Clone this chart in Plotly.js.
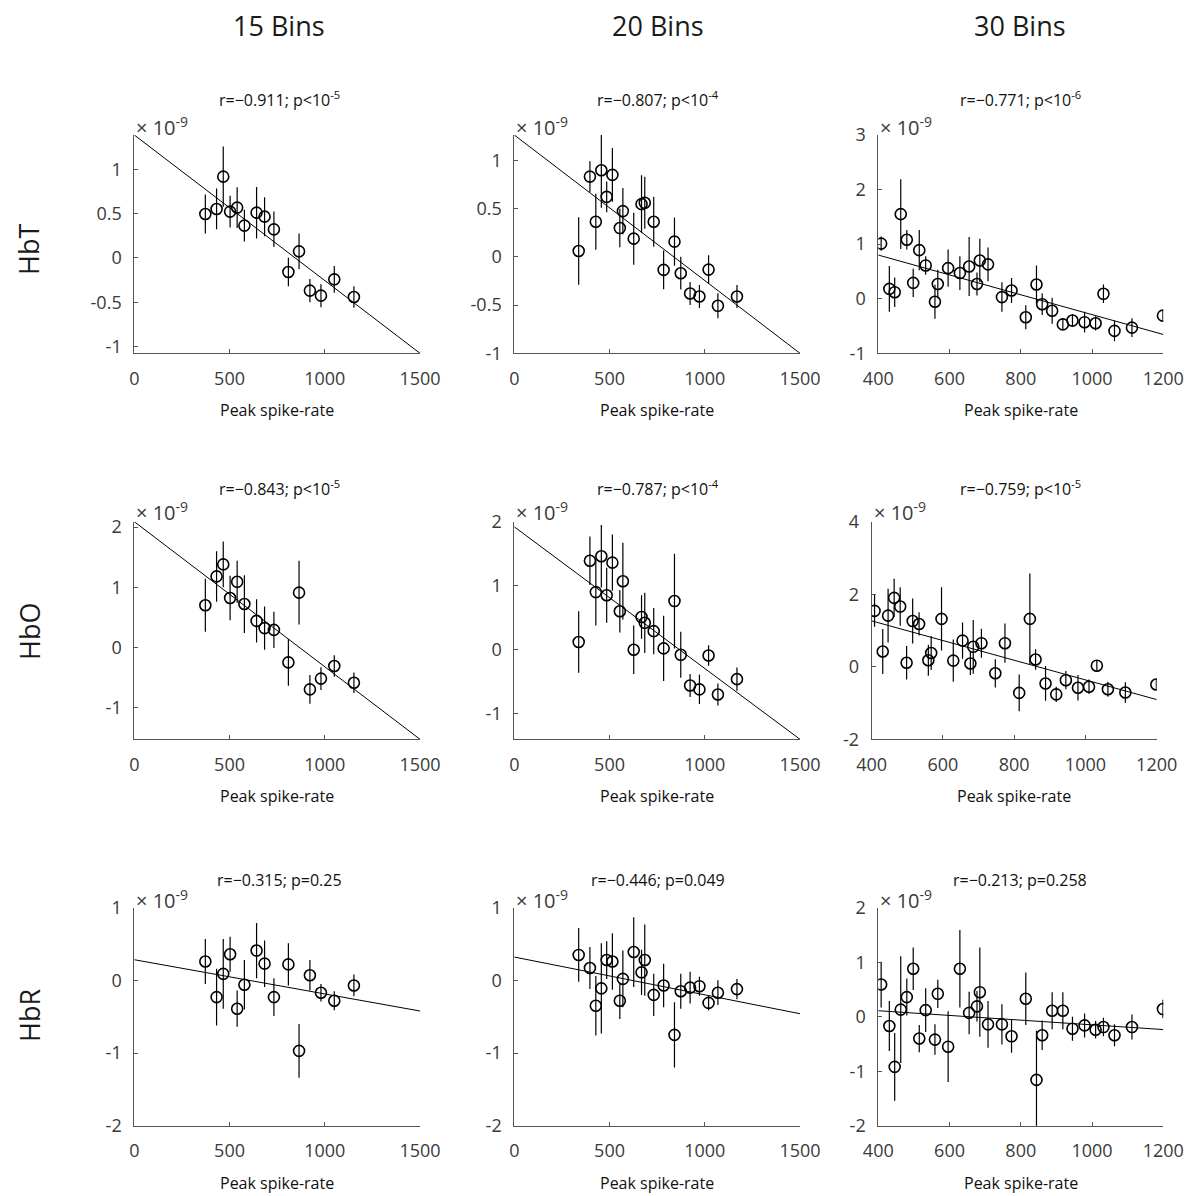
<!DOCTYPE html>
<html>
<head>
<meta charset="utf-8">
<script src="https://cdn.plot.ly/plotly-3.0.1.min.js"></script>
<style>html,body{margin:0;padding:0;background:#fff}#chart{width:1190px;height:1196px}</style>
</head>
<body>
<div id="chart"></div>
<script>
// ---------- DATA (values in units of 1e-9) ----------
const colTitles = ["15 Bins", "20 Bins", "30 Bins"];
const rowTitles = ["HbT", "HbO", "HbR"];
const xLabel = "Peak spike-rate";

const bins15_x = [373, 432, 467, 503, 540, 578, 642, 684, 733, 809, 865, 922, 980, 1050, 1153];
const bins20_x = [338, 397, 428, 457, 485, 515, 554, 570, 627, 668, 685, 732, 784, 841, 874, 923, 972, 1020, 1069, 1169];
const bins30_x = [408, 431, 446, 463, 480, 498, 515, 533, 559, 567, 596, 629, 655, 677, 685, 708, 747, 774, 814, 844, 860, 888, 918, 945, 979, 1010, 1032, 1063, 1112, 1199];

const hbt15_y = [0.496, 0.553, 0.917, 0.523, 0.568, 0.365, 0.511, 0.466, 0.323, -0.158, 0.075, -0.368, -0.425, -0.241, -0.44];
const hbt15_e = [0.22, 0.23, 0.34, 0.18, 0.23, 0.18, 0.29, 0.22, 0.2, 0.16, 0.2, 0.13, 0.13, 0.15, 0.12];
const hbo15_y = [0.70, 1.18, 1.38, 0.82, 1.09, 0.72, 0.44, 0.32, 0.29, -0.25, 0.91, -0.70, -0.52, -0.31, -0.59];
const hbo15_e = [0.44, 0.42, 0.38, 0.37, 0.35, 0.48, 0.36, 0.36, 0.3, 0.39, 0.53, 0.24, 0.19, 0.18, 0.17];
const hbr15_y = [0.26, -0.23, 0.09, 0.36, -0.39, -0.06, 0.41, 0.23, -0.23, 0.22, -0.97, 0.07, -0.17, -0.28, -0.07];
const hbr15_e = [0.31, 0.39, 0.48, 0.24, 0.25, 0.34, 0.38, 0.32, 0.26, 0.29, 0.37, 0.21, 0.12, 0.13, 0.15];

const hbt20_y = [0.062, 0.834, 0.366, 0.9, 0.624, 0.852, 0.3, 0.476, 0.19, 0.548, 0.562, 0.366, -0.134, 0.159, -0.169, -0.379, -0.41, -0.131, -0.507, -0.41];
const hbt20_e = [0.35, 0.16, 0.29, 0.39, 0.16, 0.28, 0.2, 0.24, 0.27, 0.3, 0.27, 0.26, 0.2, 0.25, 0.17, 0.12, 0.12, 0.15, 0.13, 0.12];
const hbo20_y = [0.12, 1.39, 0.90, 1.46, 0.85, 1.36, 0.60, 1.07, 0.0, 0.51, 0.42, 0.29, 0.02, 0.76, -0.08, -0.56, -0.62, -0.09, -0.70, -0.46];
const hbo20_e = [0.48, 0.38, 0.52, 0.49, 0.43, 0.44, 0.33, 0.6, 0.38, 0.34, 0.47, 0.36, 0.51, 0.74, 0.36, 0.18, 0.23, 0.16, 0.17, 0.18];
const hbr20_y = [0.35, 0.17, -0.35, -0.11, 0.28, 0.26, -0.28, 0.02, 0.39, 0.11, 0.28, -0.2, -0.07, -0.75, -0.15, -0.10, -0.08, -0.31, -0.17, -0.12];
const hbr20_e = [0.37, 0.29, 0.41, 0.62, 0.26, 0.39, 0.25, 0.39, 0.48, 0.31, 0.49, 0.29, 0.3, 0.45, 0.24, 0.22, 0.13, 0.1, 0.17, 0.14];

const hbt30_y = [1.01, 0.18, 0.12, 1.55, 1.08, 0.29, 0.89, 0.61, -0.055, 0.27, 0.56, 0.47, 0.59, 0.27, 0.70, 0.63, 0.03, 0.15, -0.34, 0.26, -0.1, -0.22, -0.47, -0.4, -0.43, -0.45, 0.09, -0.59, -0.53, -0.31];
const hbt30_e = [0.13, 0.42, 0.27, 0.64, 0.18, 0.26, 0.37, 0.17, 0.31, 0.26, 0.34, 0.31, 0.54, 0.21, 0.4, 0.31, 0.27, 0.23, 0.22, 0.35, 0.2, 0.24, 0.1, 0.12, 0.19, 0.13, 0.17, 0.19, 0.17, 0.09];
const hbo30_y = [1.54, 0.42, 1.41, 1.90, 1.66, 0.11, 1.26, 1.18, 0.18, 0.38, 1.32, 0.17, 0.72, 0.09, 0.55, 0.65, -0.18, 0.65, -0.72, 1.32, 0.2, -0.46, -0.76, -0.37, -0.58, -0.55, 0.03, -0.62, -0.71, -0.49];
const hbo30_e = [0.44, 0.62, 0.74, 0.53, 0.53, 0.46, 0.62, 0.32, 0.43, 0.47, 0.87, 0.58, 0.5, 0.32, 0.74, 0.4, 0.39, 0.54, 0.51, 1.25, 0.28, 0.48, 0.21, 0.25, 0.35, 0.2, 0.16, 0.21, 0.28, 0.16];
const hbr30_y = [0.59, -0.17, -0.92, 0.13, 0.36, 0.88, -0.40, 0.12, -0.42, 0.42, -0.55, 0.88, 0.07, 0.19, 0.45, -0.14, -0.14, -0.36, 0.33, -1.16, -0.34, 0.11, 0.11, -0.22, -0.16, -0.24, -0.19, -0.34, -0.19, 0.14];
const hbr30_e = [0.42, 0.46, 0.62, 0.98, 0.34, 0.39, 0.25, 0.4, 0.28, 0.26, 0.65, 0.71, 0.39, 0.28, 0.82, 0.43, 0.37, 0.3, 0.48, 0.9, 0.27, 0.34, 0.34, 0.22, 0.22, 0.16, 0.17, 0.2, 0.23, 0.17];

// regression lines (end points)
const fitX_15_20 = [0, 1500];
const fitX_30 = [400, 1200];
const fit_hbt15 = [1.387, -1.075], fit_hbt20 = [1.266, -1.0], fit_hbt30 = [0.80, -0.655];
const fit_hbo15 = [2.09, -1.53],   fit_hbo20 = [1.92, -1.40],  fit_hbo30 = [1.265, -0.905];
const fit_hbr15 = [0.284, -0.422], fit_hbr20 = [0.321, -0.459], fit_hbr30 = [0.11, -0.236];

const stats = [
  "r=\u22120.911; p<10<sup>-5</sup>", "r=\u22120.807; p<10<sup>-4</sup>", "r=\u22120.771; p<10<sup>-6</sup>",
  "r=\u22120.843; p<10<sup>-5</sup>", "r=\u22120.787; p<10<sup>-4</sup>", "r=\u22120.759; p<10<sup>-5</sup>",
  "r=\u22120.315; p=0.25", "r=\u22120.446; p=0.049", "r=\u22120.213; p=0.258"
];

// axis tick labels
const xTicks_15_20 = [0, 500, 1000, 1500];
const xTicks_30 = [400, 600, 800, 1000, 1200];
const yTicks_hbt = [-1, -0.5, 0, 0.5, 1];
const yTicks_hbt30 = [-1, 0, 1, 2, 3];
const yTicks_hbo = [-1, 0, 1, 2];
const yTicks_hbo30 = [-2, 0, 2, 4];
const yTicks_hbr = [-2, -1, 0, 1];
const yTicks_hbr30 = [-2, -1, 0, 1, 2];
const yRanges = [[-1.075, 1.387], [-1.0, 1.266], [-1, 3], [-1.53, 2.09], [-1.40, 2.0], [-2, 4], [-2, 1], [-2, 1], [-2, 2]];
const scaleLabel = "\u00d7 10<sup>-9</sup>";

// ---------- LAYOUT HELPERS ----------
const W = 1190, H = 1196;
const px = x => x / W;
const py = y => 1 - y / H;
const FONT = "Open Sans, Noto Sans, sans-serif";
const AXC = "#555555", TXC = "#3a3a3a";

const panels = [
  {x: bins15_x, y: hbt15_y, e: hbt15_e, fx: fitX_15_20, fy: fit_hbt15, xt: xTicks_15_20, yt: yTicks_hbt,   xr: [0, 1500],   box: [134.3, 420, 135, 353.3]},
  {x: bins20_x, y: hbt20_y, e: hbt20_e, fx: fitX_15_20, fy: fit_hbt20, xt: xTicks_15_20, yt: yTicks_hbt,   xr: [0, 1500],   box: [514.3, 800, 135, 353.3]},
  {x: bins30_x, y: hbt30_y, e: hbt30_e, fx: fitX_30,    fy: fit_hbt30, xt: xTicks_30,    yt: yTicks_hbt30, xr: [400, 1200], box: [878.3, 1163.3, 135, 353.3]},
  {x: bins15_x, y: hbo15_y, e: hbo15_e, fx: fitX_15_20, fy: fit_hbo15, xt: xTicks_15_20, yt: yTicks_hbo,   xr: [0, 1500],   box: [134.3, 420, 521.7, 739.3]},
  {x: bins20_x, y: hbo20_y, e: hbo20_e, fx: fitX_15_20, fy: fit_hbo20, xt: xTicks_15_20, yt: yTicks_hbo,   xr: [0, 1500],   box: [514.3, 800, 521.7, 739.3]},
  {x: bins30_x, y: hbo30_y, e: hbo30_e, fx: fitX_30,    fy: fit_hbo30, xt: xTicks_30,    yt: yTicks_hbo30, xr: [400, 1200], box: [871.7, 1156.7, 521.7, 739.3]},
  {x: bins15_x, y: hbr15_y, e: hbr15_e, fx: fitX_15_20, fy: fit_hbr15, xt: xTicks_15_20, yt: yTicks_hbr,   xr: [0, 1500],   box: [134.3, 420, 907.7, 1125.7]},
  {x: bins20_x, y: hbr20_y, e: hbr20_e, fx: fitX_15_20, fy: fit_hbr20, xt: xTicks_15_20, yt: yTicks_hbr,   xr: [0, 1500],   box: [514.3, 800, 907.7, 1125.7]},
  {x: bins30_x, y: hbr30_y, e: hbr30_e, fx: fitX_30,    fy: fit_hbr30, xt: xTicks_30,    yt: yTicks_hbr30, xr: [400, 1200], box: [878.3, 1163.3, 907.7, 1125.7]}
];
const titleY = [99, 488, 880];
const scaleY = [126, 512, 899];
const colCenters = [279, 658, 1020];

const traces = [];
const layout = {
  width: W, height: H,
  margin: {l: 0, r: 0, t: 0, b: 0},
  paper_bgcolor: "#ffffff", plot_bgcolor: "#ffffff",
  showlegend: false,
  font: {family: FONT, color: TXC},
  annotations: []
};

panels.forEach((p, i) => {
  const n = i + 1;
  const xa = "x" + (n === 1 ? "" : n), ya = "y" + (n === 1 ? "" : n);
  const row = Math.floor(i / 3), col = i % 3;
  traces.push({
    type: "scatter", mode: "lines", x: p.fx, y: p.fy, xaxis: xa, yaxis: ya,
    line: {color: "#000000", width: 1}, hoverinfo: "skip"
  });
  traces.push({
    type: "scatter", mode: "markers", x: p.x, y: p.y, xaxis: xa, yaxis: ya,
    marker: {symbol: "circle-open", size: 11, color: "#000000", line: {width: 1.6, color: "#000000"}},
    error_y: {type: "data", array: p.e, visible: true, color: "#000000", thickness: 1.2, width: 0}
  });
  const b = p.box;
  layout["xaxis" + (n === 1 ? "" : n)] = {
    domain: [px(b[0]), px(b[1])], anchor: ya, range: p.xr,
    tickvals: p.xt, ticktext: p.xt.map(String),
    ticks: "inside", ticklen: 4, tickwidth: 1, tickcolor: AXC,
    showline: true, linecolor: AXC, linewidth: 1, mirror: false,
    showgrid: false, zeroline: false, fixedrange: true,
    tickfont: {family: FONT, size: 18, color: TXC}, ticklabelstandoff: 9
  };
  layout["yaxis" + (n === 1 ? "" : n)] = {
    domain: [py(b[3]), py(b[2])], anchor: xa, range: yRanges[i],
    tickvals: p.yt, ticktext: p.yt.map(String),
    ticks: "inside", ticklen: 4, tickwidth: 1, tickcolor: AXC,
    showline: true, linecolor: AXC, linewidth: 1, mirror: false,
    showgrid: false, zeroline: false, fixedrange: true,
    tickfont: {family: FONT, size: 18, color: TXC}, ticklabelstandoff: 8
  };
  // panel statistics title
  layout.annotations.push({
    xref: "paper", yref: "paper", x: px(colCenters[col]), y: py(titleY[row]),
    xanchor: "center", yanchor: "middle", showarrow: false,
    text: stats[i], font: {family: FONT, size: 16, color: "#111111"}
  });
  // exponent label
  layout.annotations.push({
    xref: "paper", yref: "paper", x: px(b[0]), y: py(scaleY[row]),
    xanchor: "left", yanchor: "middle", showarrow: false,
    text: scaleLabel, font: {family: FONT, size: 20, color: TXC}
  });
  // x axis label
  layout.annotations.push({
    xref: "paper", yref: "paper", x: px((b[0] + b[1]) / 2), y: py(b[3] + 57),
    xanchor: "center", yanchor: "middle", showarrow: false,
    text: xLabel, font: {family: FONT, size: 16, color: "#111111"}
  });
});

colTitles.forEach((t, c) => {
  layout.annotations.push({
    xref: "paper", yref: "paper", x: px(colCenters[c]), y: py(25),
    xanchor: "center", yanchor: "middle", showarrow: false,
    text: t, font: {family: FONT, size: 27, color: "#1a1a1a"}
  });
});
const rowCenters = [250, 632, 1016];
rowTitles.forEach((t, r) => {
  layout.annotations.push({
    xref: "paper", yref: "paper", x: px(29), y: py(rowCenters[r]),
    xanchor: "center", yanchor: "middle", showarrow: false, textangle: -90,
    text: t, font: {family: FONT, size: 27, color: "#1a1a1a"}
  });
});

Plotly.newPlot("chart", traces, layout, {displayModeBar: false, staticPlot: true});
</script>
</body>
</html>
